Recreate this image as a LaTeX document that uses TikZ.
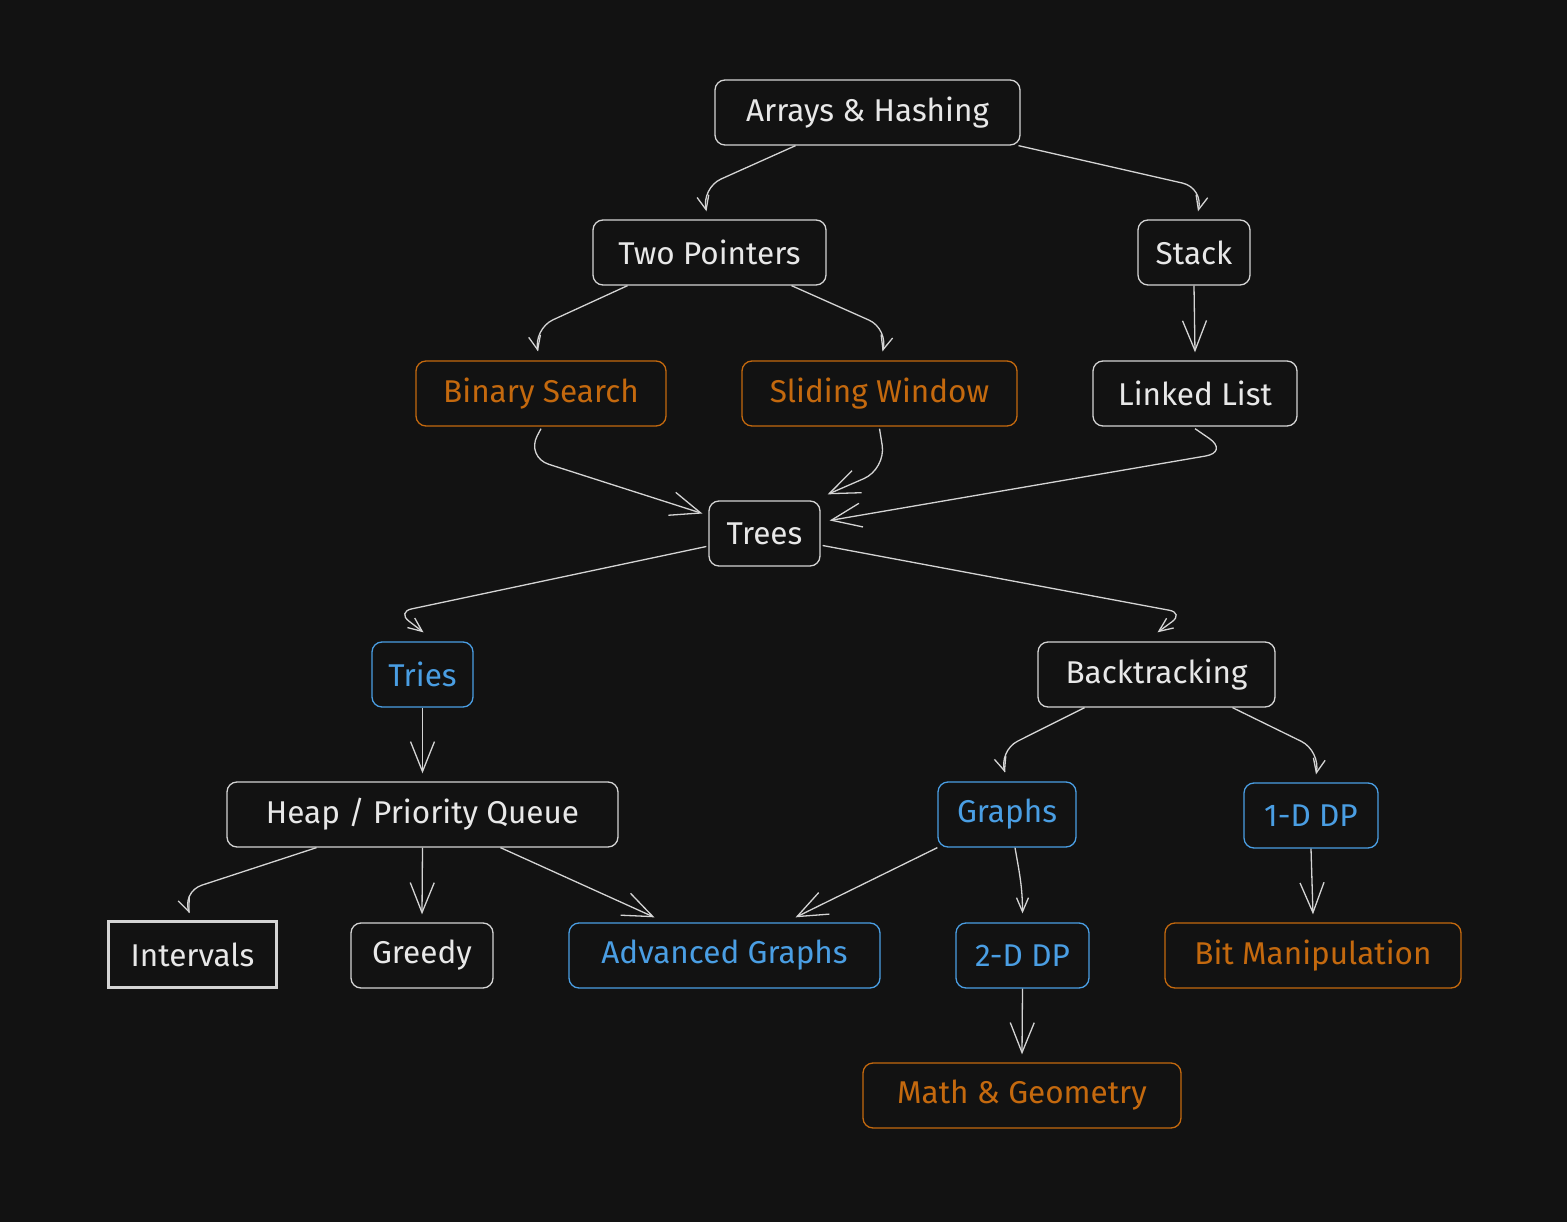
\documentclass[tikz,border=0pt]{standalone}
\usepackage{fontspec}
\setmainfont{Fira Sans}
\usetikzlibrary{arrows.meta}
\definecolor{bg}{HTML}{121212}
\definecolor{wl}{HTML}{D4D4D4}
\definecolor{wt}{HTML}{E8E8E8}
\definecolor{og}{HTML}{C4690E}
\definecolor{bl}{HTML}{4A9EE3}
\begin{document}
\begin{tikzpicture}[x=1pt,y=-1pt,
  bx/.style={draw=wl, text=wt, line width=1.3pt, rounded corners=10pt, minimum height=65pt, inner sep=0pt, font=\fontsize{31.5}{34}\selectfont},
  org/.style={bx, draw=og, text=og},
  blu/.style={bx, draw=bl, text=bl},
  con/.style={draw=wl, line width=1.3pt, rounded corners=22pt},
  big/.style={con, -{Straight Barb[length=30pt,width=24pt]}},
  sml/.style={con, -{Straight Barb[length=14pt,width=12pt]}},
]
\fill[bg] (0,0) rectangle (1567,1222);
\useasboundingbox (0,0) rectangle (1567,1222);

\node[bx, minimum width=305pt] (ah) at (867.5,112.5) {Arrays \& Hashing};
\node[bx, minimum width=233pt] (tp) at (709.5,252.5) {Two Pointers};
\node[bx, minimum width=112pt] (st) at (1194,252.5) {Stack};
\node[org, minimum width=250pt] (bs) at (541,393.5) {Binary Search};
\node[org, minimum width=275pt] (sw) at (879.5,393.5) {Sliding Window};
\node[bx, minimum width=204pt] (ll) at (1195,393.5) {Linked List};
\node[bx, minimum width=111pt] (tr) at (764.5,533.5) {Trees};
\node[blu, minimum width=101pt] (ti) at (422.5,674.5) {Tries};
\node[bx, minimum width=237pt] (bt) at (1156.5,674.5) {Backtracking};
\node[bx, minimum width=391pt] (hp) at (422.5,814.5) {Heap / Priority Queue};
\node[blu, minimum width=138pt] (gr) at (1007,814.5) {Graphs};
\node[blu, minimum width=134pt] (d1) at (1311,815.5) {1-D DP};
\node[bx, rounded corners=0pt, line width=2.6pt, minimum width=168pt, minimum height=66pt] (iv) at (192.5,954.5) {Intervals};
\node[bx, minimum width=142pt] (gd) at (422,955.5) {Greedy};
\node[blu, minimum width=311pt] (ag) at (724.5,955.5) {Advanced Graphs};
\node[blu, minimum width=133pt] (d2) at (1022.5,955.5) {2-D DP};
\node[org, minimum width=296pt] (bm) at (1313,955.5) {Bit Manipulation};
\node[org, minimum width=318pt] (mg) at (1022,1095.5) {Math \& Geometry};

% connectors
\draw[sml] ([xshift=-72pt]ah.south) -- (701,188) -- ([xshift=-3pt,yshift=8pt]tp.north);
\draw[sml] ([xshift=151pt]ah.south) -- (1204,188) -- ([xshift=4pt,yshift=8pt]st.north);
\draw[sml] ([xshift=-82pt]tp.south) -- (533,329) -- ([xshift=-3pt,yshift=9pt]bs.north);
\draw[sml] ([xshift=82pt]tp.south) -- (889,329) -- ([xshift=3pt,yshift=9pt]sw.north);
\draw[big] (st.south) -- ([yshift=8pt]ll.north);
\draw[big, rounded corners=24pt] ([yshift=-2pt]bs.south) -- (526,457) -- ([xshift=-6pt,yshift=20pt]tr.west);
\draw[big, rounded corners=24pt] ([yshift=-2pt]sw.south) -- (886,469) -- ([xshift=7pt,yshift=6pt]tr.north east);
\draw[big, rounded corners=24pt] ([yshift=-2pt]ll.south) -- (1229,452) -- ([xshift=9pt,yshift=13pt]tr.east);
\draw[sml, rounded corners=15pt] ([xshift=-2pt,yshift=-13pt]tr.west) -- (397,612) -- ([xshift=1pt,yshift=9pt]ti.north);
\draw[sml, rounded corners=15pt] ([xshift=2pt,yshift=-12pt]tr.east) -- (1184,613) -- ([xshift=1pt,yshift=9pt]bt.north);
\draw[big] (ti.south) -- ([yshift=8pt]hp.north);
\draw[sml] ([xshift=-72pt]bt.south) -- (998,751) -- ([xshift=-2pt,yshift=9pt]gr.north);
\draw[sml] ([xshift=76pt]bt.south) -- (1321,751) -- ([xshift=5pt,yshift=8pt]d1.north);
\draw[sml] ([xshift=-106pt]hp.south) -- (181,892) -- ([xshift=-3pt,yshift=7pt]iv.north);
\draw[big] (hp.south) -- ([yshift=8pt]gd.north);
\draw[big] ([xshift=78pt]hp.south) -- ([xshift=-70pt,yshift=5pt]ag.north);
\draw[big] (gr.south west) -- ([xshift=71pt,yshift=5pt]ag.north);
\draw[con, -{Straight Barb[length=14pt,width=12pt]}] ([xshift=8pt]gr.south) to[out=-80,in=90] ([yshift=9pt]d2.north);
\draw[big] (d1.south) -- ([yshift=8pt]bm.north);
\draw[big] (d2.south) -- ([yshift=8pt]mg.north);
\end{tikzpicture}
\end{document}
